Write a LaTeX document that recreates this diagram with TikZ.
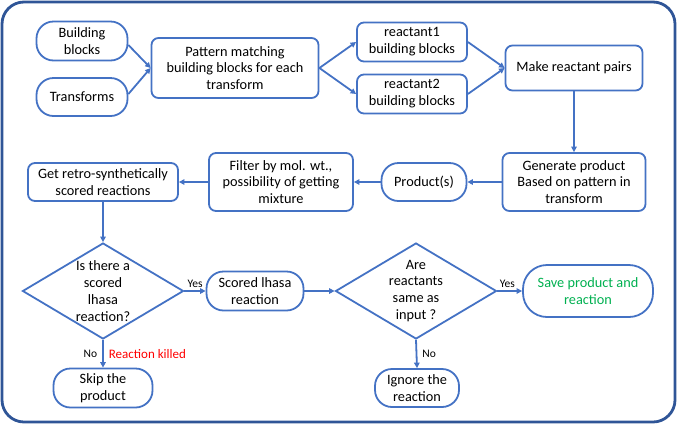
\documentclass[tikz,border=0pt]{standalone}
\usepackage{fontspec}
\setmainfont{Carlito}
\usetikzlibrary{shapes.geometric,arrows.meta}
\definecolor{lineblue}{RGB}{68,114,196}
\definecolor{frameblue}{RGB}{47,85,151}
\definecolor{savegreen}{RGB}{0,176,80}
\begin{document}
\begin{tikzpicture}[x=1pt,y=-1pt,
  every node/.style={font=\fontsize{14.3}{16.9}\selectfont, align=center, inner sep=0pt},
  pill/.style={draw=lineblue, line width=1.8pt, rounded corners=17pt},
  boxr/.style={draw=lineblue, line width=1.8pt, rounded corners=7pt},
  dia/.style={draw=lineblue, line width=1.8pt, diamond, aspect=1.68},
  conn/.style={draw=lineblue, line width=1.8pt, -{Triangle[length=5.5pt,width=5.5pt]}},
  lab/.style={font=\fontsize{11.5}{13}\selectfont}
]
\useasboundingbox (0,0) rectangle (677,424);
\draw[frameblue, line width=2.8pt, rounded corners=22pt] (2,2) rectangle (675,422);

\node[pill, minimum width=91pt, minimum height=39pt] (bb) at (82,41) {Building\\blocks};
\node[pill, minimum width=91pt, minimum height=38pt] (tr) at (82,97) {Transforms};
\node[boxr, minimum width=167pt, minimum height=60pt] (pm) at (235,68) {Pattern matching\\building blocks for each\\transform};
\node[boxr, minimum width=110pt, minimum height=39pt] (r1) at (412,42) {reactant1\\building blocks};
\node[boxr, minimum width=110pt, minimum height=39pt] (r2) at (412,94) {reactant2\\building blocks};
\node[boxr, minimum width=137pt, minimum height=45pt] (mp) at (574,68) {Make reactant pairs};
\node[boxr, minimum width=143pt, minimum height=58pt] (gp) at (574,182) {Generate product\\Based on pattern in\\transform};
\node[pill, minimum width=85pt, minimum height=38pt] (pr) at (424,182) {Product(s)};
\node[boxr, minimum width=144pt, minimum height=58pt] (fi) at (281,182) {Filter by mol. wt.,\\possibility of getting\\mixture};
\node[boxr, minimum width=150pt, minimum height=38pt] (gr) at (103,182) {Get retro-synthetically\\scored reactions};
\node[dia, minimum width=161pt, minimum height=96pt] (d1) at (103,291) {};
\node at (103,291) {Is there a\\scored\\lhasa\\reaction?};
\node[pill, minimum width=97pt, minimum height=39pt] (sl) at (255,291) {Scored lhasa\\reaction};
\node[dia, minimum width=161pt, minimum height=96pt] (d2) at (416,291) {};
\node at (416,291) {Are\\reactants\\same as\\input ?};
\node[pill, minimum width=130pt, minimum height=52pt, text=savegreen, rounded corners=24pt] (sv) at (588,291) {Save product and\\reaction};
\node[pill, minimum width=99pt, minimum height=39pt] (sk) at (103,388) {Skip the\\product};
\node[pill, minimum width=84pt, minimum height=38pt] (ig) at (417,388) {Ignore the\\reaction};

\draw[conn] (bb.east) ++(0,4) -- (pm.west);
\draw[conn] (tr.east) ++(0,-3) -- (pm.west);
\draw[conn] (pm.east) -- (r1.west);
\draw[conn] (pm.east) -- (r2.west);
\draw[conn] (r1.east) -- (mp.west);
\draw[conn] (r2.east) -- (mp.west);
\draw[conn] (mp.south) -- (gp.north);
\draw[conn] (gp.west) -- (pr.east);
\draw[conn] (pr.west) -- (fi.east);
\draw[conn] (fi.west) -- (gr.east);
\draw[conn] (gr.south) -- (d1.north);
\draw[conn] (d1.east) -- node[lab, above=3pt] {Yes} (sl.west);
\draw[conn] (sl.east) -- (d2.west);
\draw[conn] (d2.east) -- node[lab, above=3pt, pos=0.4] {Yes} (sv.west);
\draw[conn] (d1.south) -- node[lab, left=5pt] {No} node[lab, right=5pt, text=red, font=\fontsize{13}{15}\selectfont] {Reaction killed} (sk.north);
\draw[conn] (d2.south) -- node[lab, right=5pt] {No} (ig.north);
\end{tikzpicture}
\end{document}
